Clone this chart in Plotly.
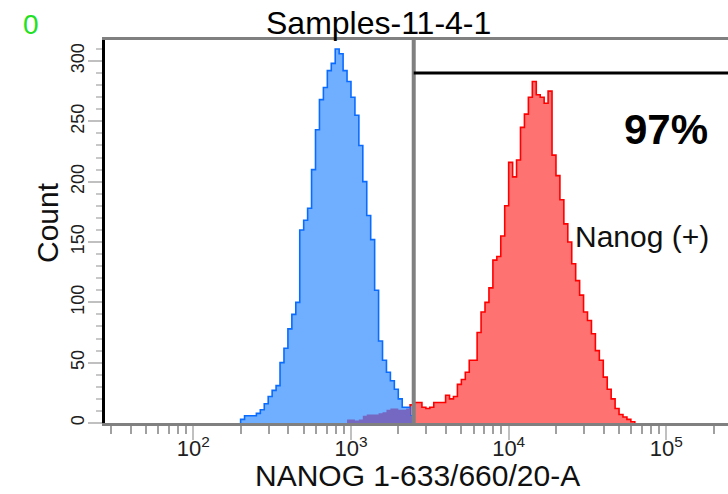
import numpy as np
import plotly.graph_objects as go

# ---------------- data ----------------
bin_width_log = 0.025          # histogram bin width (decades)

# unstained / isotype control (blue)
blue_start_log = 2.30
blue_counts = [3, 6, 6, 6, 8, 11, 16, 22, 27, 31,
               50, 62, 78, 90, 100, 160, 168, 178, 210, 243,
               268, 278, 292, 298, 310, 306, 292, 283, 270, 255,
               230, 200, 172, 152, 110, 68, 52, 42, 35, 28,
               20, 13, 13, 6]

# NANOG stained sample (red)
red_start_log = 2.975
red_counts = [3, 3, 2, 3, 6, 7, 7, 7, 8, 9,
              11, 12, 12, 11, 11, 12, 15, 17, 17, 13,
              12, 13, 17, 17, 17, 23, 20, 22, 32, 36,
              42, 52, 52, 75, 92, 100, 112, 135, 138, 155,
              180, 216, 204, 218, 245, 256, 270, 283, 272, 270,
              265, 275, 222, 205, 185, 165, 150, 132, 118, 106,
              92, 85, 74, 60, 52, 38, 28, 20, 12, 7,
              5, 3, 1]

gate_low = 2500        # NANOG 1-633/660/20-A
gate_count = 290       # gate bar height (count)
gate_label = "Nanog (+)"
gate_percent = "97%"

title_text = "Samples-11-4-1"
corner_text = "0"
x_title = "NANOG 1-633/660/20-A"
y_title = "Count"

x_range_log = [1.44, 5.391]
y_range = [0, 317.4]
xtick_vals = [1e2, 1e3, 1e4, 1e5]
xtick_text = ["10<sup>2</sup>", "10<sup>3</sup>", "10<sup>4</sup>", "10<sup>5</sup>"]
minor_mults = [2, 3, 4, 5, 6, 7, 8, 9]
minor_decades = [1, 2, 3, 4, 5]
ytick_vals = [0, 50, 100, 150, 200, 250, 300]
ytick_text = ["0", "50", "100", "150", "200", "250", "300"]

# ---------------- helpers ----------------
W, H = 728, 494
ML, MR, MT, MB = 105, 0, 40, 71
PW, PH = W - ML - MR, H - MT - MB


def px(xp):
    return (xp - ML) / PW


def py(yp):
    return (H - MB - yp) / PH


def step_xy(start_log, counts):
    n = len(counts)
    edges = 10 ** (start_log + bin_width_log * np.arange(n + 1))
    xs = [edges[0]] + list(edges[:-1]) + [edges[-1], edges[-1]]
    ys = [0] + list(counts) + [counts[-1], 0]
    return xs, ys


offset = int(round((red_start_log - blue_start_log) / bin_width_log))
ov_counts = []
for j, rc in enumerate(red_counts):
    i = j + offset
    if i < len(blue_counts):
        ov_counts.append(min(rc, blue_counts[i]))

FONT = "Liberation Sans, Arial, sans-serif"

fig = go.Figure()

rx, ry = step_xy(red_start_log, red_counts)
fig.add_trace(go.Scatter(x=rx, y=ry, mode="lines", line_shape="hv",
                         fill="tozeroy", fillcolor="#ff7272",
                         line=dict(color="#ff0000", width=1.6),
                         hoverinfo="skip", showlegend=False))

bx, by = step_xy(blue_start_log, blue_counts)
fig.add_trace(go.Scatter(x=bx, y=by, mode="lines", line_shape="hv",
                         fill="tozeroy", fillcolor="#70aeff",
                         line=dict(color="#0a6cff", width=1.6),
                         hoverinfo="skip", showlegend=False))

ox, oy = step_xy(red_start_log, ov_counts)
fig.add_trace(go.Scatter(x=ox, y=oy, mode="lines", line_shape="hv",
                         fill="tozeroy", fillcolor="#7468c2",
                         line=dict(color="#7468c2", width=0),
                         hoverinfo="skip", showlegend=False))

# gate
fig.add_shape(type="line", xref="x", yref="paper",
              x0=gate_low, x1=gate_low, y0=0, y1=1,
              line=dict(color="#808080", width=4))
fig.add_shape(type="line", xref="x", yref="y",
              x0=gate_low, x1=10 ** x_range_log[1], y0=gate_count, y1=gate_count,
              line=dict(color="#000000", width=3))

ann = [
    dict(text=corner_text, x=px(31), y=py(24), font=dict(size=28, color="#22e022", family=FONT)),
    dict(text=title_text, x=px(378), y=py(23), font=dict(size=32, color="#000000", family=FONT)),
    dict(text=gate_percent, x=px(666), y=py(129), font=dict(size=42, color="#000000", family=FONT, weight="bold")),
    dict(text=x_title, x=px(417), y=py(475), font=dict(size=30, color="#101010", family=FONT)),
    dict(text=y_title, x=px(48), y=py(223), textangle=-90, font=dict(size=30, color="#101010", family=FONT)),
]
for a in ann:
    fig.add_annotation(xref="paper", yref="paper", xanchor="center", yanchor="middle",
                       showarrow=False, **a)
fig.add_annotation(xref="paper", yref="paper", x=px(573), y=py(236),
                   xanchor="left", yanchor="middle", showarrow=False, text=gate_label,
                   font=dict(size=30, color="#101010", family=FONT))

minor_vals = [m * 10 ** d for d in minor_decades for m in minor_mults]

fig.update_layout(
    width=W, height=H,
    margin=dict(l=ML, r=MR, t=MT, b=MB, pad=0),
    paper_bgcolor="white", plot_bgcolor="white",
    showlegend=False,
    xaxis=dict(type="log", range=x_range_log, showgrid=False, zeroline=False,
               showline=True, linecolor="#808080", linewidth=3, mirror=True,
               ticks="outside", ticklen=14, tickwidth=2, tickcolor="#c0c0c0",
               tickmode="array", tickvals=xtick_vals, ticktext=xtick_text,
               ticklabelstandoff=-10,
               tickfont=dict(size=22, color="#202020", family=FONT),
               minor=dict(tickmode="array", tickvals=minor_vals, ticks="outside",
                          ticklen=8, tickwidth=2, tickcolor="#a0a0a0", showgrid=False)),
    yaxis=dict(range=y_range, showgrid=False, zeroline=False,
               showline=True, linecolor="#000000", linewidth=3,
               ticks="outside", ticklen=14, tickwidth=2, tickcolor="#c0c0c0",
               tickmode="array", tickvals=ytick_vals, ticktext=ytick_text,
               ticklabelstandoff=-3,
               tickangle=-90, tickfont=dict(size=18, color="#202020", family=FONT),
               minor=dict(dtick=10, ticks="outside", ticklen=6, tickwidth=2,
                          tickcolor="#c8c8c8", showgrid=False)),
)

fig.write_html("out.html", config={"displayModeBar": False},
               post_script="document.body.style.margin='0';document.body.style.padding='0';")
